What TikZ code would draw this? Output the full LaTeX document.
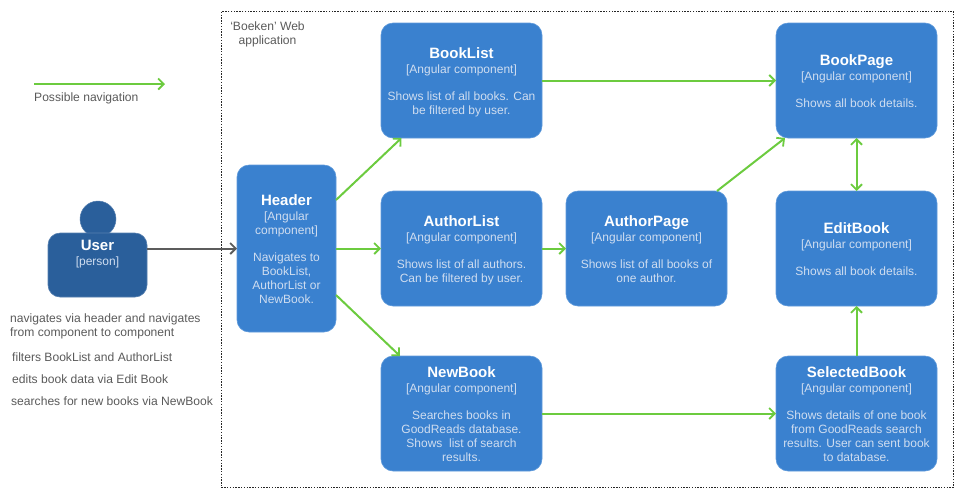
\documentclass[tikz,border=0pt]{standalone}
\usepackage{fontspec}
\setmainfont{Liberation Sans}
\usetikzlibrary{arrows.meta}
\definecolor{boxblue}{HTML}{3A81CF}
\definecolor{boxedge}{HTML}{5F9ADB}
\definecolor{userblue}{HTML}{2A5F9B}
\definecolor{lighttext}{HTML}{CFDDF0}
\definecolor{navgreen}{HTML}{6CCB3F}
\definecolor{greytext}{HTML}{5A5A5A}
\definecolor{usergrey}{HTML}{5C5C5C}
\newcommand{\ttl}[1]{{\fontsize{15}{14}\selectfont\bfseries\color{white}#1}\\[1pt]\relax}
\newcommand{\sectgap}{\\[13pt]}
\newcommand{\boxtext}[4]{\parbox[c][#2pt][t]{#1pt}{\centering\fontsize{12}{14}\selectfont\color{lighttext}\vspace*{#3pt}#4\par}}
\tikzset{
  comp/.style={draw=boxedge,line width=0.6pt,fill=boxblue,rounded corners=12pt,inner sep=0pt,outer sep=0pt},
  person/.style={comp,fill=userblue,draw=userblue!80!white},
  nav/.style={draw=navgreen,line width=2pt,-{Straight Barb[length=5.5pt,width=11pt,line width=1.8pt]}},
  navboth/.style={draw=navgreen,line width=2pt,{Straight Barb[length=5.5pt,width=11pt,line width=1.8pt]}-{Straight Barb[length=5.5pt,width=11pt,line width=1.8pt]}},
  usernav/.style={draw=usergrey,line width=2pt,-{Straight Barb[length=5.5pt,width=11pt,line width=1.8pt]}},
  note/.style={font=\fontsize{12.1}{14}\selectfont,text=greytext,inner sep=0pt,align=left},
  frame/.style={draw=black!85,line width=0.9pt,dash pattern=on 1.4pt off 1.4pt},
}
\begin{document}
\begin{tikzpicture}[x=1pt,y=-1pt]
\useasboundingbox (0,0) rectangle (970,499);
\node[frame,minimum width=732pt,minimum height=476pt,inner sep=0pt,anchor=north west] (app) at (221,11) {};
\node[note,align=center] (apptitle) at (267.5,34) {‘Boeken’ Web\\application};

% user
\node[circle,fill=userblue,draw=userblue!80!white,line width=0.5pt,minimum size=36pt,inner sep=0pt] (head) at (98,219) {};
\node[person,anchor=north west] (user) at (48,233) {\boxtext{99}{64}{7}{\ttl{User}[person]}};

% boxes
\node[comp,anchor=north west] (hdr) at (237,165) {\boxtext{99}{167}{30}{\ttl{Header}[Angular\\component]\sectgap Navigates to\\BookList,\\AuthorList or\\NewBook.}};
\node[comp,anchor=north west] (booklist) at (381,23) {\boxtext{161}{115}{25}{\ttl{BookList}[Angular component]\sectgap Shows list of all books. Can\\be filtered by user.}};
\node[comp,anchor=north west] (authorlist) at (381,191) {\boxtext{161}{115}{25}{\ttl{AuthorList}[Angular component]\sectgap Shows list of all authors.\\Can be filtered by user.}};
\node[comp,anchor=north west] (authorpage) at (566,191) {\boxtext{161}{115}{25}{\ttl{AuthorPage}[Angular component]\sectgap Shows list of all books of\\one author.}};
\node[comp,anchor=north west] (newbook) at (381,356) {\boxtext{161}{115}{11}{\ttl{NewBook}[Angular component]\sectgap Searches books in\\GoodReads database.\\Shows\ \ list of search\\results.}};
\node[comp,anchor=north west] (bookpage) at (776,23) {\boxtext{161}{115}{32}{\ttl{BookPage}[Angular component]\sectgap Shows all book details.}};
\node[comp,anchor=north west] (editbook) at (776,191) {\boxtext{161}{115}{32}{\ttl{EditBook}[Angular component]\sectgap Shows all book details.}};
\node[comp,anchor=north west] (selbook) at (776,356) {\boxtext{161}{115}{11}{\ttl{SelectedBook}[Angular component]\sectgap Shows details of one book\\from GoodReads search\\results. User can sent book\\to database.}};

% legend
\coordinate (legA) at (34,84);
\coordinate (legB) at (165,84);
\draw[nav] (legA) -- (legB);
\node[note,anchor=west] (legtext) at (34,98.5) {Possible navigation};

% notes
\node[note,anchor=north west] (n1) at (10,314) {navigates via header and navigates\\from component to component};
\node[note,anchor=west] (n2) at (12,357) {filters BookList and AuthorList};
\node[note,anchor=west] (n3) at (12,379) {edits book data via Edit Book};
\node[note,anchor=west] (n4) at (11,401) {searches for new books via NewBook};

% connectors
\draw[usernav] ([yshift=16.5pt]user.east) -- (hdr.west);
\draw[nav] ([yshift=48.5pt]hdr.east) -- ([xshift=20.5pt]booklist.south west);
\draw[nav] (hdr.east) -- (authorlist.west);
\draw[nav] ([yshift=-46.5pt]hdr.east) -- ([xshift=19pt]newbook.north west);
\draw[nav] (booklist.east) -- (bookpage.west);
\draw[nav] (authorlist.east) -- (authorpage.west);
\draw[nav] (newbook.east) -- (selbook.west);
\draw[nav] ([xshift=-10pt]authorpage.north east) -- ([xshift=9pt]bookpage.south west);
\draw[navboth] (bookpage.south) -- (editbook.north);
\draw[nav] (selbook.north) -- (editbook.south);
\end{tikzpicture}
\end{document}
